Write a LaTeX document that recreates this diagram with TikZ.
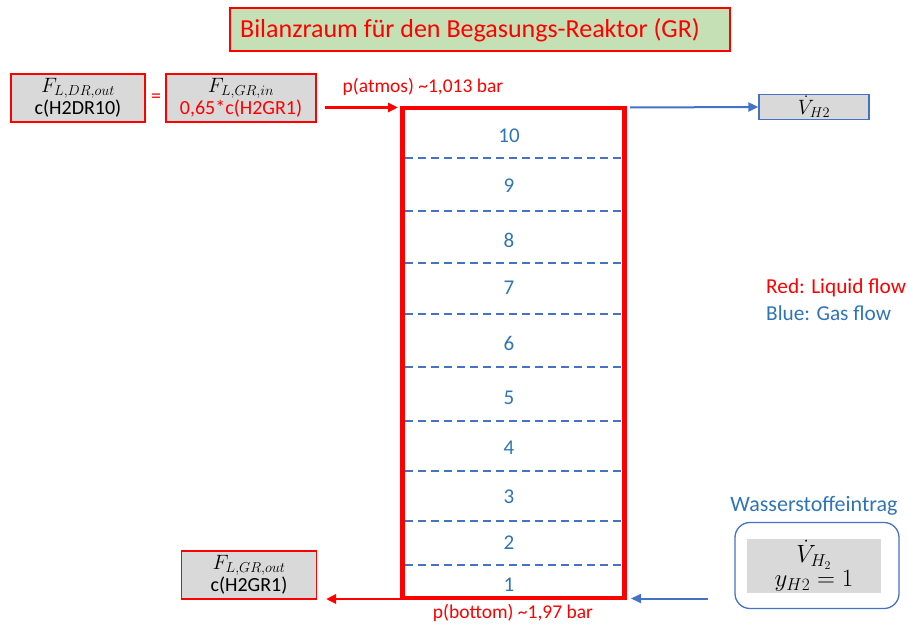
\documentclass[tikz,border=0pt]{standalone}
\usepackage{fontspec}
\setmainfont{Carlito}
\usetikzlibrary{arrows.meta}
\definecolor{myred}{RGB}{255,0,0}
\definecolor{mygray}{RGB}{217,217,217}
\definecolor{mygreen}{RGB}{197,224,180}
\definecolor{lineblue}{RGB}{68,114,196}
\definecolor{textblue}{RGB}{46,117,182}
\tikzset{
  fs/.style={font=\fontsize{#1}{#1}\selectfont},
  graybox/.style={draw=myred, line width=1.2pt, fill=mygray, inner sep=0pt, align=center},
  redarrow/.style={draw=myred, line width=2.5pt, -{Triangle[length=10pt,width=9pt]}},
  bluearrow/.style={draw=lineblue, line width=2pt, -{Triangle[length=10pt,width=9pt]}},
  stage/.style={text=textblue, fs=21},
  stageline/.style={draw=lineblue, line width=1.5pt, dash pattern=on 8pt off 5pt},
}
\newcommand{\mth}[1]{{\fontsize{22}{22}\selectfont$#1$}}
\begin{document}
\begin{tikzpicture}[x=1pt,y=-1pt]
\useasboundingbox (0,0) rectangle (908,626);
% title
\node[draw=myred, line width=2pt, fill=mygreen, minimum width=500pt, minimum height=43pt] (title) at (480,30) {};
\node[text=myred, fs=26] (titletext) at (470,30) {Bilanzraum für den Begasungs-Reaktor (GR)};
% top left boxes
\node[graybox, minimum width=134pt, minimum height=48pt, fs=20] (b1) at (78,98) {\mth{F_{L,DR,out}}\\[1pt] c(H2DR10)};
\node[text=myred, fs=20] (eq) at (156,98) {=};
\node[graybox, minimum width=150pt, minimum height=48pt, fs=20, text=myred] (b2) at (241,98) {\textcolor{black}{\mth{F_{L,GR,in}}}\\[1pt] 0,65*c(H2GR1)};
% reactor
\draw[draw=myred, line width=4.5pt] (402.5,108) rectangle (624.5,598);
\coordinate (rtl) at (398,107.5);
\coordinate (rtr) at (630,107.5);
\coordinate (rbl) at (400,599);
\coordinate (rbr) at (631,598.5);
\coordinate (inS) at (325,107.5);
\foreach \y in {158,211,263,314,367,421,471,521,565}{
  \draw[stageline] (405,\y) -- (622,\y);
}
\foreach \n/\y in {10/136,9/186,8/240,7/288,6/343,5/398,4/448,3/497,2/543,1/585}{
  \node[stage] (s\n) at (509,\y) {\n};
}
% top inlet
\draw[redarrow] (inS) -- (rtl);
\node[text=myred, fs=19.5] (patm) at (423,87) {p(atmos) \textasciitilde1,013 bar};
% top gas out
\node[draw=lineblue, line width=1.2pt, fill=mygray, minimum width=110pt, minimum height=25pt, inner sep=0pt] (vout) at (814,107) {\mth{\dot{V}_{H2}}};
\draw[bluearrow] (rtr) -- (vout.west);
% legend
\node[anchor=west, text=myred, fs=21.3, inner sep=0pt] (leg1) at (766,288) {Red: Liquid flow};
\node[anchor=west, text=textblue, fs=21.3, inner sep=0pt] (leg2) at (766,313) {Blue: Gas flow};
% bottom outlet
\node[graybox, minimum width=135pt, minimum height=48pt, fs=20] (bout) at (249,575) {\mth{F_{L,GR,out}}\\[1pt] c(H2GR1)};
\coordinate (outE) at (326,599);
\draw[redarrow] (rbl) -- (outE);
\node[text=myred, fs=19.5] (pbot) at (513,613) {p(bottom) \textasciitilde1,97 bar};
% hydrogen feed
\node[text=textblue, fs=22] (wlab) at (814,506) {Wasserstoffeintrag};
\node[draw=lineblue, line width=1.3pt, rounded corners=15pt, minimum width=164pt, minimum height=86pt, fill=white] (wbox) at (817,565.5) {};
\node[fill=mygray, minimum width=134pt, minimum height=54pt, inner sep=0pt, align=center, fs=24] (winner) at (814,566) {$\dot{V}_{H_2}$\\[0pt] $y_{H2}=1$};
\coordinate (feedS) at (708,598.5);
\draw[bluearrow] (feedS) -- (rbr);
\end{tikzpicture}
\end{document}
